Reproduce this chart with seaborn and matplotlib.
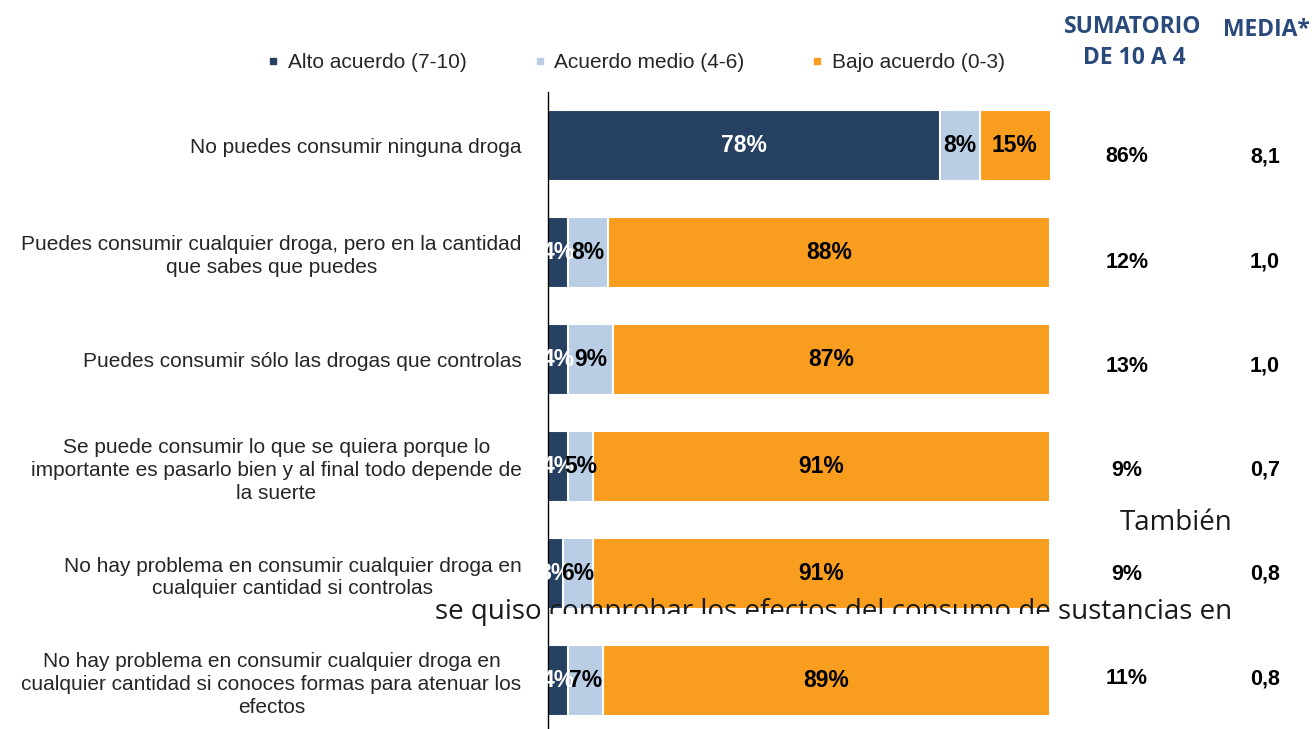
import numpy as np
import pandas as pd
import matplotlib
matplotlib.use("Agg")
import matplotlib.pyplot as plt
import seaborn as sns
from matplotlib.lines import Line2D
from matplotlib.patches import Rectangle

# Data
categorias = [
    "No puedes consumir ninguna droga",
    "Puedes consumir cualquier droga, pero en la cantidad\nque sabes que puedes",
    "Puedes consumir sólo las drogas que controlas",
    "Se puede consumir lo que se quiera porque lo\nimportante es pasarlo bien y al final todo depende de\nla suerte",
    "No hay problema en consumir cualquier droga en\ncualquier cantidad si controlas",
    "No hay problema en consumir cualquier droga en\ncualquier cantidad si conoces formas para atenuar los\nefectos",
]
alto = [78, 4, 4, 4, 3, 4]
medio = [8, 8, 9, 5, 6, 7]
bajo = [15, 88, 87, 91, 91, 89]
sumatorio = ["86%", "12%", "13%", "9%", "9%", "11%"]
media = ["8,1", "1,0", "1,0", "0,7", "0,8", "0,8"]
series = ["Alto acuerdo (7-10)", "Acuerdo medio (4-6)", "Bajo acuerdo (0-3)"]

c_alto = "#264061"
c_medio = "#b9cde5"
c_bajo = "#f99d1f"

df = pd.DataFrame({"cat": categorias, "alto": alto, "medio": medio, "bajo": bajo})
df["c2"] = df["alto"] + df["medio"]
df["c3"] = df["c2"] + df["bajo"]

sns.set_style("white")
plt.rcParams["font.family"] = ["Liberation Sans", "DejaVu Sans"]

fig = plt.figure(figsize=(13.12, 7.29), dpi=100)
ax = fig.add_axes([548 / 1312, -5 / 729, 502 / 1312, 642 / 729])

# stacked bars: draw cumulative totals, longest first
for col, color in [("c3", c_bajo), ("c2", c_medio), ("alto", c_alto)]:
    sns.barplot(data=df, x=col, y="cat", color=color, orient="h", width=0.67,
                edgecolor="white", linewidth=1.5, saturation=1, ax=ax)

ax.set_xlim(0, 100)
ax.set_ylim(5.5, -0.5)
ax.set_xlabel("")
ax.set_ylabel("")
ax.set_xticks([])
for s in ["top", "right", "bottom"]:
    ax.spines[s].set_visible(False)
ax.spines["left"].set_color("black")
ax.spines["left"].set_linewidth(1)

ax.set_yticks(range(len(categorias)))
ax.set_yticklabels(categorias, fontsize=15, ha="right", multialignment="center",
                   linespacing=1.25)
ax.tick_params(axis="y", which="major", length=0, pad=19)
ax.set_yticks(np.arange(0.5, len(categorias) - 0.5, 1), minor=True)
ax.tick_params(axis="y", which="minor", length=6, width=1, color="black", direction="out")

# bar labels
for i in range(len(categorias)):
    a, m, b = alto[i], medio[i], bajo[i]
    ax.text(a / 2, i, f"{a}%", ha="center", va="center", color="white",
            fontsize=16.5, fontweight="bold")
    ax.text(a + m / 2, i, f"{m}%", ha="center", va="center", color="black",
            fontsize=16.5, fontweight="bold")
    ax.text(min(a + m + b / 2, 100 - b / 2 + 0.5 * (a + m + b - 100)), i, f"{b}%",
            ha="center", va="center", color="black", fontsize=16.5, fontweight="bold")

# right side columns
ys = [157, 262, 366, 470, 574, 679]
for i in range(len(categorias)):
    fig.text(1127 / 1312, 1 - ys[i] / 729, sumatorio[i], ha="center", va="center",
             fontsize=15.5, fontweight="bold", color="black")
    fig.text(1265 / 1312, 1 - ys[i] / 729, media[i], ha="center", va="center",
             fontsize=15.5, fontweight="bold", color="black")

hdr_color = "#2a4a7c"
fig.text(1133 / 1312, 1 - 27 / 729, "SUMATORIO", ha="center", va="center",
         fontsize=16.5, fontweight="bold", color=hdr_color, family="Open Sans")
fig.text(1134 / 1312, 1 - 58 / 729, "DE 10 A 4", ha="center", va="center",
         fontsize=16.5, fontweight="bold", color=hdr_color, family="Open Sans")
fig.text(1266 / 1312, 1 - 30 / 729, "MEDIA*", ha="center", va="center",
         fontsize=16.5, fontweight="bold", color=hdr_color, family="Open Sans")

# legend
handles = [Line2D([], [], marker="s", linestyle="", markersize=5, color=c)
           for c in [c_alto, c_medio, c_bajo]]
fig.legend(handles, series, loc="center", bbox_to_anchor=(636 / 1312, 1 - 63 / 729),
           ncol=3, frameon=False, fontsize=15, handlelength=0.6, handletextpad=0.4,
           columnspacing=3.2)

# overlaid text
fig.text(1232 / 1312, 1 - 523 / 729, "También", ha="right", va="center",
         fontsize=20, color="#1a1a1a", family="Open Sans", zorder=5)
fig.text(1232 / 1312, 1 - 612 / 729, "se quiso comprobar los efectos del consumo de sustancias en",
         ha="right", va="center", fontsize=20, color="#1a1a1a", family="Open Sans", zorder=5)
fig.patches.append(Rectangle((550 / 1312, 1 - 640 / 729), 500 / 1312, 26 / 729,
                             transform=fig.transFigure, facecolor="white",
                             edgecolor="none", zorder=6))

fig.savefig("out.png", dpi=100)
